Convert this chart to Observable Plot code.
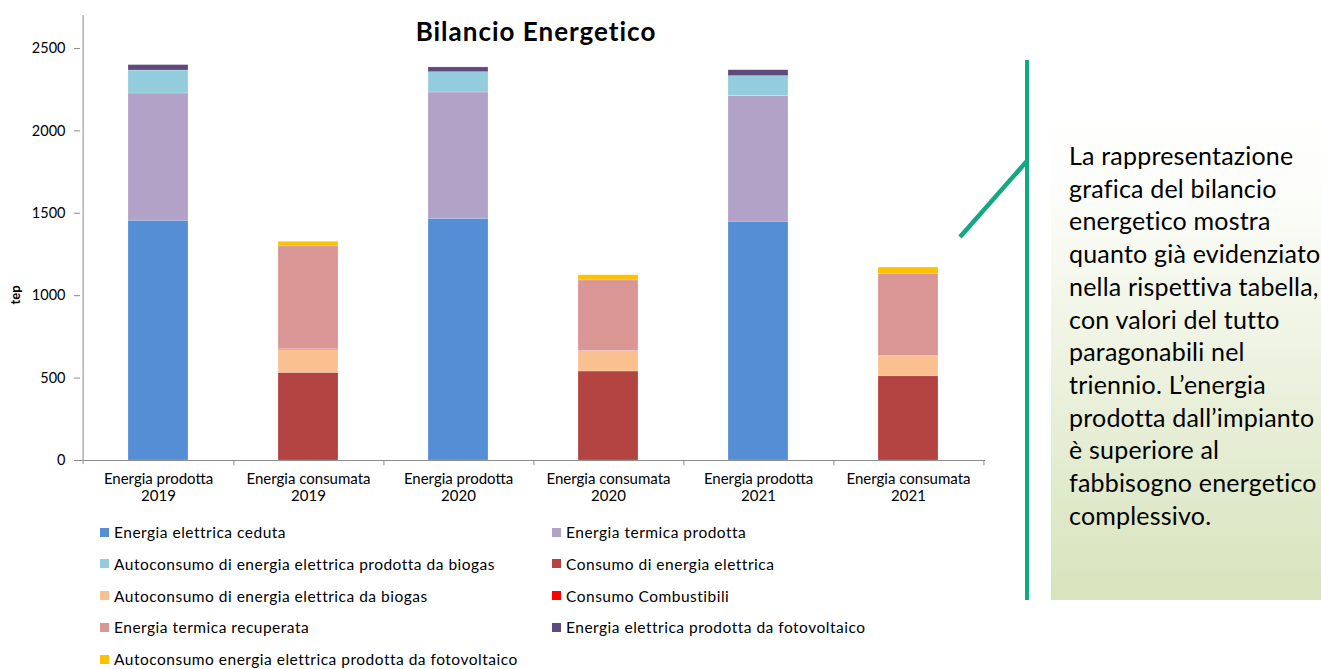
<!DOCTYPE html>
<html>
<head>
<meta charset="utf-8">
<script src="https://cdn.jsdelivr.net/npm/d3@7"></script>
<script src="https://cdn.jsdelivr.net/npm/@observablehq/plot@0.6"></script>
<style>
  html, body { margin: 0; padding: 0; background: #fff; }
  #wrap { position: relative; width: 1321px; height: 669px; overflow: hidden; font-family: Lato, "Open Sans", sans-serif; }
  #chart { position: absolute; left: 0; top: 0; }
  #title { position: absolute; left: 286px; top: 15px; width: 500px; text-align: center; font-weight: bold; font-size: 26px; letter-spacing: 1px; color: #000; }
  #ylabel { position: absolute; left: 15px; top: 295px; transform: translate(-50%, -50%) rotate(-90deg); font-weight: bold; font-size: 13px; }
  #legend { position: absolute; left: 100px; top: 525px; display: grid; grid-template-columns: 452px 400px; grid-auto-rows: 31.8px; font-size: 15.5px; letter-spacing: 0.5px; color: #000; }
  .li { display: flex; align-items: center; white-space: nowrap; height: 14px; line-height: 14px; }
  .sw { width: 9px; height: 9px; margin-right: 5px; flex: none; }
  #box { position: absolute; left: 1051px; top: 90px; width: 270px; height: 510px; background: linear-gradient(to bottom, #ffffff 0%, #fdfefb 18%, #d7e3bc 100%); }
  #txt { position: absolute; left: 1069px; top: 139px; font-size: 25px; letter-spacing: 0.2px; line-height: 32.7px; color: #000; white-space: pre; }
  #deco { position: absolute; left: 0; top: 0; }
</style>
</head>
<body>
<div id="wrap">
  <div id="box"></div>
  <div id="chart"></div>
  <div id="title">Bilancio Energetico</div>
  <div id="ylabel">tep</div>
  <div id="legend"></div>
  <svg id="deco" width="1321" height="669">
    <line x1="1027" y1="60" x2="1027" y2="600" stroke="#12a982" stroke-width="4"/>
    <line x1="960" y1="237" x2="1027" y2="161" stroke="#12a982" stroke-width="4.5"/>
  </svg>
  <div id="txt"></div>
</div>
<script>
const categories = [
  "Energia prodotta\n2019", "Energia consumata\n2019",
  "Energia prodotta\n2020", "Energia consumata\n2020",
  "Energia prodotta\n2021", "Energia consumata\n2021"
];
const seriesNames = [
  "Energia elettrica ceduta",
  "Energia termica prodotta",
  "Autoconsumo di energia elettrica prodotta da biogas",
  "Consumo di energia elettrica",
  "Autoconsumo di energia elettrica da biogas",
  "Consumo Combustibili",
  "Energia termica recuperata",
  "Energia elettrica prodotta da fotovoltaico",
  "Autoconsumo energia elettrica prodotta da fotovoltaico"
];
const seriesColors = ["#558ed5", "#b3a2c7", "#93cddd", "#b34341", "#fac090", "#ff0000", "#d99694", "#604a7b", "#ffc000"];

const elettricaCeduta      = [1455, 0, 1467, 0, 1449, 0];
const termicaProdotta      = [772, 0, 766, 0, 763, 0];
const autoconsBiogasProd   = [139, 0, 123, 0, 120, 0];
const consumoElettrica     = [0, 532, 0, 540, 0, 511];
const autoconsBiogas       = [0, 139, 0, 123, 0, 121];
const consumoCombustibili  = [0, 5, 0, 1, 0, 1];
const termicaRecuperata    = [0, 623, 0, 429, 0, 497];
const fotovoltaico         = [33, 0, 29, 0, 36, 0];
const autoconsFotovoltaico = [0, 28, 0, 31, 0, 41];

const seriesValues = [elettricaCeduta, termicaProdotta, autoconsBiogasProd, consumoElettrica,
  autoconsBiogas, consumoCombustibili, termicaRecuperata, fotovoltaico, autoconsFotovoltaico];
const yTicks = [0, 500, 1000, 1500, 2000, 2500];

const data = categories.flatMap((c, i) => seriesNames.map((s, j) => ({category: c, series: s, value: seriesValues[j][i]})));

const W = 1000, ML = 80, MR = 15;
const step = (W - ML - MR) / categories.length;

const chart = Plot.plot({
  width: W, height: 510,
  marginLeft: ML, marginRight: MR, marginTop: 15, marginBottom: 50,
  style: {fontFamily: "Lato, 'Open Sans', sans-serif", color: "#000", background: "transparent", overflow: "visible"},
  x: {domain: categories, paddingInner: 0.6, paddingOuter: 0.3, label: null},
  y: {domain: [0, 2700], label: null},
  color: {domain: seriesNames, range: seriesColors},
  marks: [
    Plot.barY(data, {x: "category", y: "value", fill: "series", stroke: "#fff", strokeOpacity: 0.35, strokeWidth: 0.6}),
    Plot.ruleY([0], {stroke: "#8c8c8c"}),
    Plot.ruleX([categories[0]], {y1: -25, y2: 2700, dx: -step / 2, stroke: "#8c8c8c"}),
    Plot.ruleX(categories, {y1: 0, y2: -32, dx: step / 2, stroke: "#8c8c8c"}),
    Plot.axisY({ticks: yTicks, tickFormat: d => String(d), tickSize: 6, tickPadding: 9, fontSize: 14.5, stroke: "#8c8c8c", label: null}),
    Plot.axisX({tickSize: 0, tickPadding: 11, fontSize: 15, letterSpacing: 0.4, lineHeight: 1.15, label: null})
  ]
});
document.getElementById("chart").appendChild(chart);

// legend (left column first 5 items in order, right column the others)
const leftCol = [0, 2, 4, 6, 8], rightCol = [1, 3, 5, 7];
const legend = document.getElementById("legend");
for (let r = 0; r < 5; r++) {
  for (const col of [leftCol, rightCol]) {
    const idx = col[r];
    const div = document.createElement("div");
    div.className = "li";
    if (idx !== undefined) {
      div.innerHTML = `<span class="sw" style="background:${seriesColors[idx]}"></span><span>${seriesNames[idx]}</span>`;
    }
    legend.appendChild(div);
  }
}

const lines = [
  "La rappresentazione",
  "grafica del bilancio",
  "energetico mostra",
  "quanto già evidenziato",
  "nella rispettiva tabella,",
  "con valori del tutto",
  "paragonabili nel",
  "triennio. L’energia",
  "prodotta dall’impianto",
  "è superiore al",
  "fabbisogno energetico",
  "complessivo."
];
document.getElementById("txt").textContent = lines.join("\n");
</script>
</body>
</html>
